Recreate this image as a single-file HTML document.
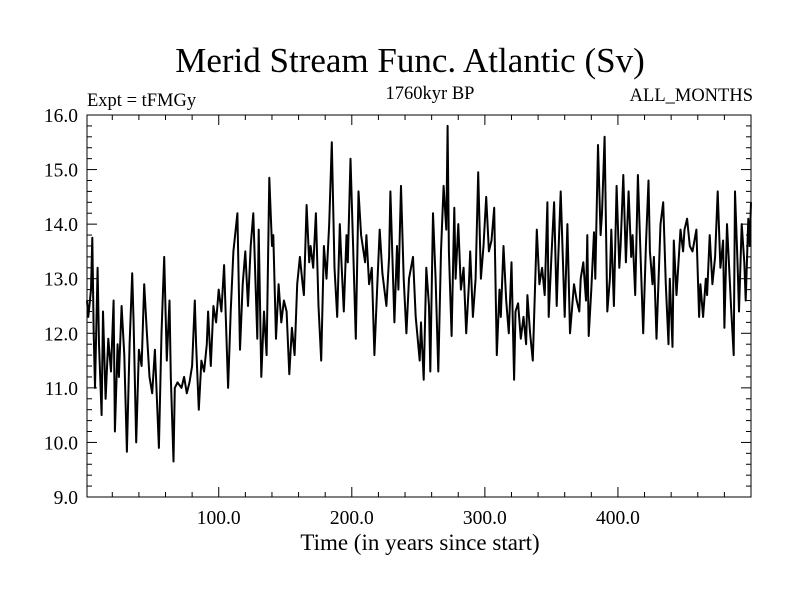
<!DOCTYPE html>
<html><head><meta charset="utf-8"><style>
body{margin:0;background:#fff}
svg text{font-family:"Liberation Serif",serif;fill:#000}
</style></head><body>
<svg id="chart" width="800" height="600" xmlns="http://www.w3.org/2000/svg">
<rect width="800" height="600" fill="#fff"/>
<text x="410" y="72" font-size="35" text-anchor="middle">Merid Stream Func. Atlantic (Sv)</text>
<text x="87" y="106" font-size="18.5">Expt = tFMGy</text>
<text x="430" y="99" font-size="18.5" text-anchor="middle">1760kyr BP</text>
<text x="753" y="101" font-size="18.5" text-anchor="end">ALL_MONTHS</text>
<text x="420" y="550" font-size="23" text-anchor="middle">Time (in years since start)</text>
<g id="axes"></g>
<path id="series" fill="none" stroke="#000" stroke-width="2" stroke-linejoin="round"/>
<rect x="87" y="115" width="664" height="382" fill="none" stroke="#000" stroke-width="1"/>
</svg>
<script>
const years=[0,1,3,4,5,6,8,9,11,12,14,16,18,20,21,23,24,26,28,30,32,34,35,37,39,41,43,45,47,49,51,54,56,58,60,62,63,65,66,68,71,73,75,77,79,81,82,84,86,88,90,91,93,95,97,99,101,103,106,108,110,113,115,117,119,121,123,125,128,129,131,133,135,137,139,140,142,144,146,148,150,152,154,156,158,160,162,163,165,167,168,170,172,174,176,178,180,182,184,186,188,190,191,193,195,196,198,200,202,204,206,209,210,212,214,216,218,220,222,225,227,228,231,233,234,236,238,240,242,245,247,250,251,253,255,257,258,260,262,264,266,268,270,271,272,274,276,277,279,281,283,285,287,288,290,292,294,296,298,300,302,304,306,308,310,311,313,315,317,319,321,322,324,326,328,330,331,333,335,338,340,342,344,346,347,349,351,353,354,356,359,361,363,366,368,370,371,373,375,376,377,379,381,382,384,386,387,389,391,393,394,396,398,400,401,403,405,407,409,410,412,414,416,418,420,422,423,425,426,428,431,433,435,437,438,440,441,443,446,448,449,451,453,455,458,460,461,463,465,466,468,470,472,474,476,478,479,481,483,484,486,487,489,490,492,494,495,497,498,499];
const values=[12.6,12.3,12.8,13.75,12.0,11.0,13.2,11.8,10.5,12.4,10.8,11.9,11.3,12.6,10.2,11.8,11.2,12.5,11.6,9.83,11.8,13.1,12.2,10.0,11.7,11.4,12.9,12.0,11.2,10.9,11.7,9.9,12.0,13.4,11.5,12.6,11.2,9.65,11.0,11.1,11.0,11.2,10.9,11.1,11.4,12.6,11.8,10.6,11.5,11.3,11.8,12.4,11.4,12.5,12.2,12.8,12.4,13.25,11.0,12.4,13.5,14.2,11.7,12.9,13.5,12.5,13.6,14.2,11.9,13.9,11.2,12.4,11.6,14.85,13.6,13.8,11.9,12.9,12.2,12.6,12.4,11.25,12.1,11.6,12.9,13.4,12.9,12.7,14.35,13.3,13.6,13.2,14.2,12.5,11.5,13.6,13.0,14.0,15.5,13.2,12.3,14.0,13.4,12.4,13.8,13.3,15.2,13.6,11.9,14.6,13.8,13.3,13.8,12.9,13.2,11.6,12.8,13.9,13.1,12.5,13.4,14.6,12.2,13.6,12.8,14.7,13.0,12.0,13.0,13.4,12.3,11.5,12.2,11.15,13.2,12.5,11.3,14.2,13.0,11.3,13.5,14.7,13.9,15.8,13.5,11.95,14.3,13.0,14.0,12.8,13.2,12.0,12.9,13.5,12.3,13.0,14.95,13.0,13.6,14.5,13.5,13.7,14.3,11.6,12.8,12.3,13.6,12.6,12.0,13.3,11.15,12.4,12.55,11.9,12.3,11.8,12.7,12.0,11.5,13.9,12.9,13.2,12.7,14.4,12.3,13.4,14.4,12.5,13.3,14.6,12.3,14.0,12.0,12.9,12.6,12.4,13.0,13.3,12.6,13.8,11.95,12.8,13.85,13.0,15.45,13.8,14.2,15.6,12.4,13.0,13.9,12.5,14.7,13.2,13.6,14.9,13.3,14.6,13.4,13.8,12.7,14.9,13.4,12.0,13.6,14.8,13.5,12.9,13.4,11.9,14.0,14.4,12.9,11.8,13.0,11.75,13.7,12.7,13.9,13.5,13.9,14.1,13.6,13.5,13.9,12.3,12.9,12.3,13.0,12.7,13.8,12.9,13.4,14.6,13.2,13.7,12.1,14.0,13.0,12.5,11.6,14.6,13.2,12.4,14.0,13.3,12.6,14.1,13.6,14.4];
const yTickLabels=["9.0","10.0","11.0","12.0","13.0","14.0","15.0","16.0"];
const xTickLabels=["100.0","200.0","300.0","400.0"];

const L=87,R=751,T=115,B=497,X0=1,X1=500,Y0=9,Y1=16;
function xs(v){return L+(v-X0)/(X1-X0)*(R-L);}
function ys(v){return B-(v-Y0)/(Y1-Y0)*(B-T);}
const NS="http://www.w3.org/2000/svg";
const ax=document.getElementById('axes');
function line(x1,y1,x2,y2,name){const l=document.createElementNS(NS,'line');l.setAttribute('x1',x1);l.setAttribute('y1',y1);l.setAttribute('x2',x2);l.setAttribute('y2',y2);l.setAttribute('stroke','#000');l.setAttribute('stroke-width','1');


ax.appendChild(l);}
function txt(x,y,s,anchor,name){const t=document.createElementNS(NS,'text');t.setAttribute('x',x);t.setAttribute('y',y);t.setAttribute('font-size','19.5');t.setAttribute('text-anchor',anchor);t.textContent=s;


ax.appendChild(t);}
for(let v=9;v<=16.0001;v+=0.2){const y=ys(v);const major=Math.abs(v-Math.round(v))<0.01;const len=major?10:5;
line(L,y,L+len,y,'y-tick');line(R,y,R-len,y,'y-tick-right');}
yTickLabels.forEach(s=>{txt(78,ys(parseFloat(s))+7,s,'end','y-tick-label');});
for(let v=20;v<500;v+=20){const x=xs(v);const major=v%100===0;const len=major?10:5;
line(x,B,x,B-len,'x-tick');line(x,T,x,T+len,'x-tick-top');}
xTickLabels.forEach(s=>{txt(xs(parseFloat(s)),524,s,'middle','x-tick-label');});
let d='';years.forEach((yr,i)=>{d+=(i?'L':'M')+xs(yr+1).toFixed(1)+' '+ys(values[i]).toFixed(1);});
document.getElementById('series').setAttribute('d',d);
</script>
</body></html>
